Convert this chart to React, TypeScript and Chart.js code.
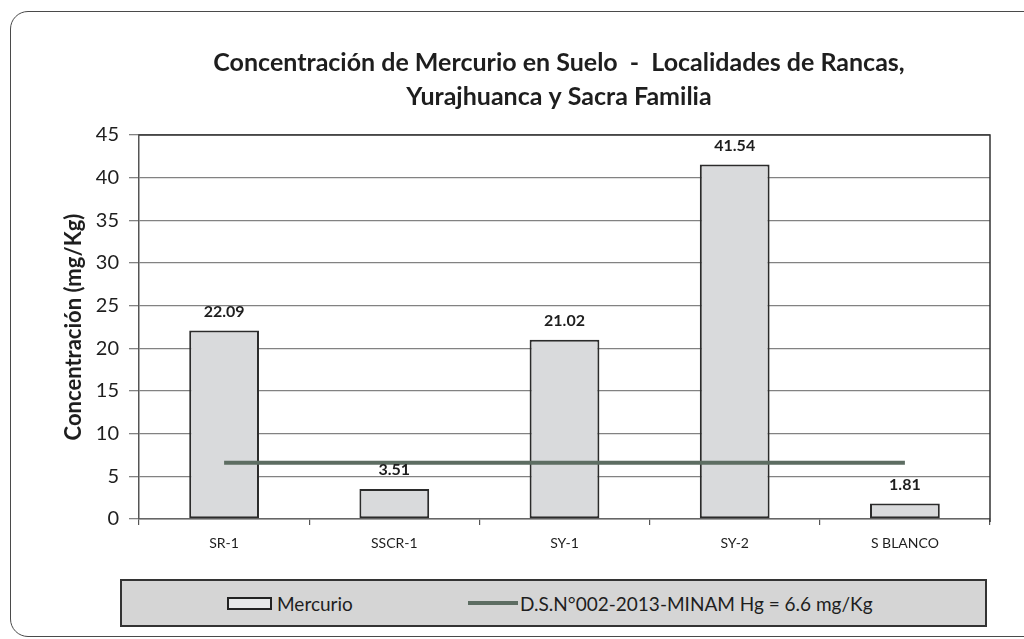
import React, { useEffect, useRef } from 'react';
import { Chart, registerables } from 'chart.js';

Chart.register(...registerables);

// ---- data ----
const categories: string[] = ['SR-1', 'SSCR-1', 'SY-1', 'SY-2', 'S BLANCO'];
const mercurioValues: number[] = [22.09, 3.51, 21.02, 41.54, 1.81];
const limiteValues: number[] = [6.6, 6.6, 6.6, 6.6, 6.6];
const yMin = 0;
const yMax = 45;
const yStep = 5;
const titleLines: string[] = [
  'Concentración de Mercurio en Suelo  -  Localidades de Rancas,',
  'Yurajhuanca y Sacra Familia',
];
const yAxisTitle = 'Concentración (mg/Kg)';
const barSeriesLabel = 'Mercurio';
const lineSeriesLabel = 'D.S.N°002-2013-MINAM Hg = 6.6 mg/Kg';

// ---- styles ----
const FONT = 'Lato, "Open Sans", sans-serif';
const BAR_FILL = '#d9dadc';
const BAR_BORDER = '#2b2b2b';
const LINE_COLOR = '#5d6d62';
const GRID_COLOR = '#828282';
const TEXT_COLOR = '#1e1e1e';

const titleShift = {
  id: 'titleShift',
  afterLayout(chart: any) {
    const t = chart.titleBlock;
    if (t) t.left += 70;
  },
};

const frame = {
  id: 'frame',
  afterDraw(chart: any) {
    const { ctx, chartArea } = chart;
    ctx.save();
    ctx.strokeStyle = '#333333';
    ctx.lineWidth = 1.5;
    ctx.beginPath();
    ctx.moveTo(chartArea.left, chartArea.top);
    ctx.lineTo(chartArea.right, chartArea.top);
    ctx.lineTo(chartArea.right, chartArea.bottom + 3);
    ctx.stroke();
    ctx.restore();
  },
};

const valueLabels = {
  id: 'valueLabels',
  afterDatasetsDraw(chart: any) {
    const { ctx } = chart;
    chart.data.datasets.forEach((ds: any, i: number) => {
      if (ds.type !== 'bar') return;
      const meta = chart.getDatasetMeta(i);
      meta.data.forEach((el: any, j: number) => {
        ctx.save();
        ctx.font = `bold 16px ${FONT}`;
        ctx.fillStyle = TEXT_COLOR;
        ctx.textAlign = 'center';
        ctx.textBaseline = 'middle';
        ctx.fillText(Number(ds.data[j]).toFixed(2), el.x, el.y - 19);
        ctx.restore();
      });
    });
  },
};

export default function App() {
  const canvasRef = useRef<HTMLCanvasElement | null>(null);

  useEffect(() => {
    document.body.style.margin = '0';
    const canvas = canvasRef.current;
    if (!canvas) return;
    const chart = new Chart(canvas, {
      type: 'bar',
      data: {
        labels: categories,
        datasets: [
          {
            type: 'line',
            label: lineSeriesLabel,
            data: limiteValues,
            borderColor: LINE_COLOR,
            backgroundColor: LINE_COLOR,
            borderWidth: 4,
            pointRadius: 0,
            tension: 0,
            fill: false,
            order: 0,
          } as any,
          {
            type: 'bar',
            label: barSeriesLabel,
            data: mercurioValues,
            backgroundColor: BAR_FILL,
            borderColor: BAR_BORDER,
            borderWidth: 2,
            borderSkipped: false,
            categoryPercentage: 1,
            barPercentage: 0.41,
            order: 1,
          } as any,
        ],
      },
      options: {
        responsive: false,
        animation: false,
        events: [],
        layout: { padding: { left: 58, right: 34, top: 0, bottom: 86 } },
        plugins: {
          legend: { display: false },
          tooltip: { enabled: false },
          title: {
            display: true,
            text: titleLines,
            color: TEXT_COLOR,
            font: { family: FONT, size: 25, weight: 'bold', lineHeight: 1.36 },
            padding: { top: 46, bottom: 21 },
          },
        },
        scales: {
          x: {
            offset: true,
            grid: {
              display: true,
              drawOnChartArea: false,
              drawTicks: true,
              tickLength: 6,
              offset: true,
              color: '#555555',
              lineWidth: 1.2,
            },
            border: { display: true, color: '#666666', width: 1.5 },
            ticks: {
              color: TEXT_COLOR,
              font: { family: FONT, size: 14 },
              padding: 10,
              maxRotation: 0,
            },
            afterFit: (s: any) => {
              s.height = 34;
            },
          },
          y: {
            min: yMin,
            max: yMax,
            grid: {
              color: GRID_COLOR,
              lineWidth: 1.3,
              tickLength: 10,
              drawTicks: true,
            },
            border: { display: true, color: '#555555', width: 1.5 },
            ticks: {
              stepSize: yStep,
              color: TEXT_COLOR,
              font: { family: FONT, size: 20 },
              padding: 10,
            },
            title: {
              display: true,
              text: yAxisTitle,
              color: TEXT_COLOR,
              font: { family: FONT, size: 22, weight: 'bold', lineHeight: 1.2 },
              padding: { top: 3, bottom: 0 },
            },
            afterFit: (s: any) => {
              s.width = 81;
            },
          },
        },
      } as any,
      plugins: [titleShift, frame, valueLabels],
    });
    return () => chart.destroy();
  }, []);

  return (
    <div
      style={{
        position: 'relative',
        width: 1024,
        height: 639,
        overflow: 'hidden',
        background: '#ffffff',
        fontFamily: FONT,
      }}
    >
      <div
        style={{
          position: 'absolute',
          left: 10,
          top: 11,
          width: 1120,
          height: 626,
          border: '1.5px solid #4a4a4a',
          borderRadius: 18,
          boxSizing: 'border-box',
        }}
      />
      <canvas
        ref={canvasRef}
        width={1024}
        height={639}
        style={{ position: 'absolute', left: 0, top: 0 }}
      />
      <div
        style={{
          position: 'absolute',
          left: 120,
          top: 579,
          width: 867,
          height: 48,
          boxSizing: 'border-box',
          border: '2px solid #333333',
          background: '#d5d5d5',
          color: TEXT_COLOR,
          fontSize: 19,
        }}
      >
        <div
          style={{
            position: 'absolute',
            left: 105,
            top: 0,
            height: '100%',
            display: 'flex',
            alignItems: 'center',
          }}
        >
          <span
            style={{
              display: 'inline-block',
              width: 45,
              height: 13,
              boxSizing: 'border-box',
              border: '2px solid #222222',
              background: '#e6e7e8',
              marginRight: 5,
            }}
          />
          <span>{barSeriesLabel}</span>
        </div>
        <div
          style={{
            position: 'absolute',
            left: 346,
            top: 0,
            height: '100%',
            display: 'flex',
            alignItems: 'center',
          }}
        >
          <span
            style={{
              display: 'inline-block',
              width: 50,
              height: 4,
              background: LINE_COLOR,
              marginRight: 2,
            }}
          />
          <span>{lineSeriesLabel}</span>
        </div>
      </div>
    </div>
  );
}
